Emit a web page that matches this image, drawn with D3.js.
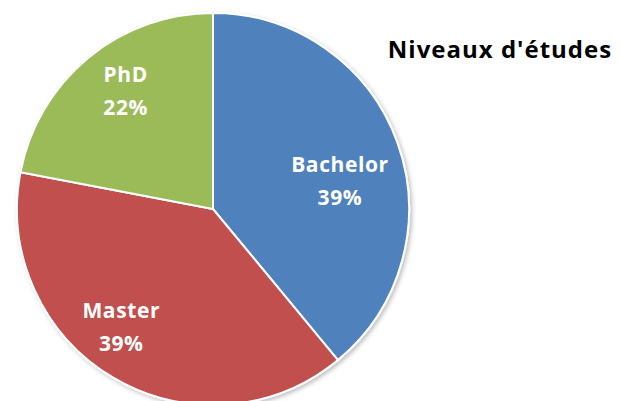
<!DOCTYPE html>
<html>
<head>
<meta charset="utf-8">
<script src="https://cdn.jsdelivr.net/npm/d3@7"></script>
<style>
  html, body { margin: 0; padding: 0; background: #fff; }
  svg { display: block; }
</style>
</head>
<body>
<div id="chart"></div>
<script>
// Data
var categories = ["Bachelor", "Master", "PhD"];
var values = [39, 39, 22];
var colors = ["#4F81BD", "#C0504D", "#9BBB59"];
var title = "Niveaux d'études";

// label nudges away from the arc centroid (layout only)
var labelNudge = [[-2, 18], [-22, 0], [0, -12]];

var width = 620, height = 401;
var cx = 213, cy = 209, radius = 196;
var font = "'Open Sans', sans-serif";

var svg = d3.select("#chart").append("svg")
  .attr("width", width)
  .attr("height", height);

var defs = svg.append("defs");
var shadow = defs.append("filter").attr("id", "shadow")
  .attr("x", "-10%").attr("y", "-10%").attr("width", "120%").attr("height", "120%");
shadow.append("feDropShadow")
  .attr("dx", 2).attr("dy", 2).attr("stdDeviation", 2)
  .attr("flood-color", "#000").attr("flood-opacity", 0.25);

var data = categories.map(function(c, i) { return { name: c, value: values[i], color: colors[i] }; });

var pie = d3.pie().sort(null).value(function(d) { return d.value; });
var arc = d3.arc().innerRadius(0).outerRadius(radius);
var labelArc = d3.arc().innerRadius(137).outerRadius(137);

var g = svg.append("g").attr("transform", "translate(" + cx + "," + cy + ")");

g.append("g").attr("filter", "url(#shadow)")
  .selectAll("path")
  .data(pie(data))
  .enter().append("path")
  .attr("d", arc)
  .attr("fill", function(d) { return d.data.color; })
  .attr("stroke", "#fff")
  .attr("stroke-width", 2);

var total = d3.sum(values);
var labels = g.selectAll("text.lbl")
  .data(pie(data))
  .enter().append("text")
  .attr("class", "lbl")
  .attr("transform", function(d, i) {
    var c = labelArc.centroid(d);
    return "translate(" + (c[0] + labelNudge[i][0]) + "," + (c[1] + labelNudge[i][1]) + ")";
  })
  .attr("text-anchor", "middle")
  .attr("fill", "#fff")
  .attr("font-family", font)
  .attr("font-weight", "bold")
  .attr("font-size", "21px")
  .attr("letter-spacing", "0.6px");

labels.append("tspan")
  .attr("x", 0).attr("y", -9)
  .text(function(d) { return d.data.name; });
labels.append("tspan")
  .attr("x", 0).attr("y", 24)
  .text(function(d) { return Math.round(d.data.value / total * 100) + "%"; });

svg.append("text")
  .attr("x", 500).attr("y", 58)
  .attr("text-anchor", "middle")
  .attr("font-family", font)
  .attr("font-weight", "bold")
  .attr("font-size", "24px")
  .attr("letter-spacing", "1px")
  .attr("fill", "#000")
  .text(title);
</script>
</body>
</html>
